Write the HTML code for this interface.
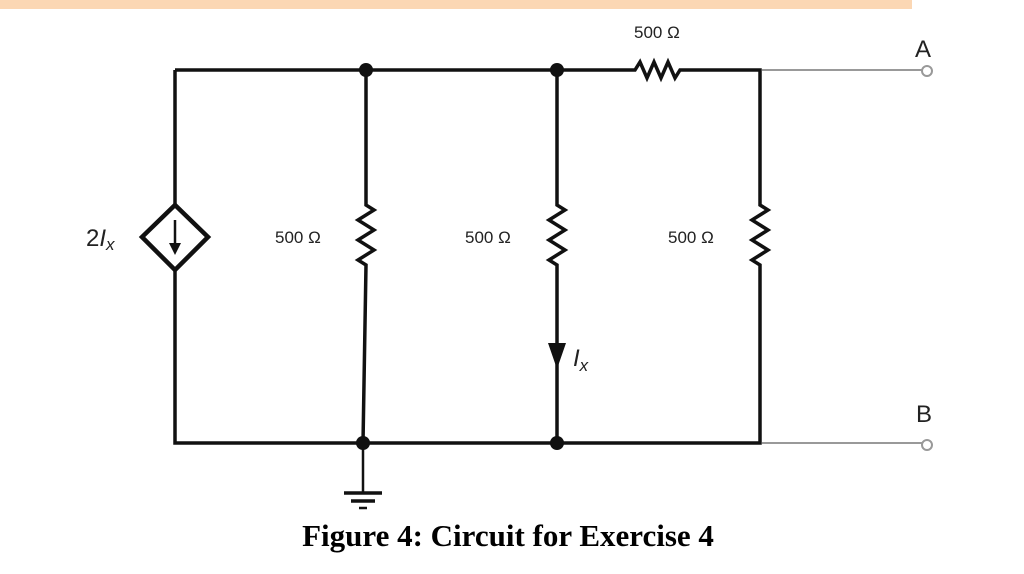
<!DOCTYPE html>
<html><head><meta charset="utf-8"><style>
html,body{margin:0;padding:0;background:#fff;width:1024px;height:574px;overflow:hidden}
</style></head><body>
<svg width="1024" height="574" xmlns="http://www.w3.org/2000/svg">
<rect x="0" y="0" width="912" height="9" fill="#fbd7b4"/>
<g stroke="#111" stroke-width="3.5" fill="none" stroke-linejoin="miter">
<polyline points="175,70 635,70 640,62 647,78 654,62 661,78 668,62 675,78 680,70 760,70 760,205 768,210 752,220 768,230 752,240 768,250 752,260 760,265 760,443 175,443 175,270"/>
<line x1="175" y1="70" x2="175" y2="204"/>
<polygon points="175,205 208,237 175,270 142,237" stroke-width="4.5"/>
<polyline points="366,70 366,205 374,210 358,220 374,230 358,240 374,250 358,260 366,265 363,443"/>
<polyline points="557,70 557,205 565,210 549,220 565,230 549,240 565,250 549,260 557,265 557,443"/>
<line x1="363" y1="443" x2="363" y2="493" stroke-width="2.5"/>
<line x1="344" y1="493" x2="382" y2="493"/>
<line x1="351" y1="501" x2="375" y2="501"/>
<line x1="359" y1="508" x2="367" y2="508" stroke-width="2.5"/>
<line x1="175" y1="220" x2="175" y2="245" stroke-width="2.5"/>
</g>
<polygon points="169,243 181,243 175,255" fill="#111"/>
<polygon points="548,343 566,343 557,369" fill="#111"/>
<g stroke="#999" stroke-width="2" fill="none">
<line x1="762" y1="70" x2="922" y2="70"/>
<line x1="762" y1="443" x2="922" y2="443"/>
<circle cx="927" cy="71" r="5" fill="#fff"/>
<circle cx="927" cy="445" r="5" fill="#fff"/>
</g>
<g fill="#111">
<circle cx="366" cy="70" r="7"/><circle cx="557" cy="70" r="7"/>
<circle cx="363" cy="443" r="7"/><circle cx="557" cy="443" r="7"/>
</g>
<g font-family="Liberation Sans, DejaVu Sans, sans-serif" fill="#222" font-size="17">
<text x="634" y="38">500 Ω</text>
<text x="275" y="243">500 Ω</text>
<text x="465" y="243">500 Ω</text>
<text x="668" y="243">500 Ω</text>
<text x="915" y="57" font-size="24">A</text>
<text x="916" y="422" font-size="24">B</text>
<text x="86" y="246" font-size="24">2<tspan font-style="italic">I</tspan><tspan font-style="italic" font-size="17" dy="4">x</tspan></text>
<text x="573" y="366" font-size="24" font-style="italic">I<tspan font-size="17" dy="5">x</tspan></text>
</g>
<text x="508" y="546" text-anchor="middle" font-family="Liberation Serif, serif" font-weight="bold" font-size="31" fill="#000">Figure 4: Circuit for Exercise 4</text>
</svg>
</body></html>
